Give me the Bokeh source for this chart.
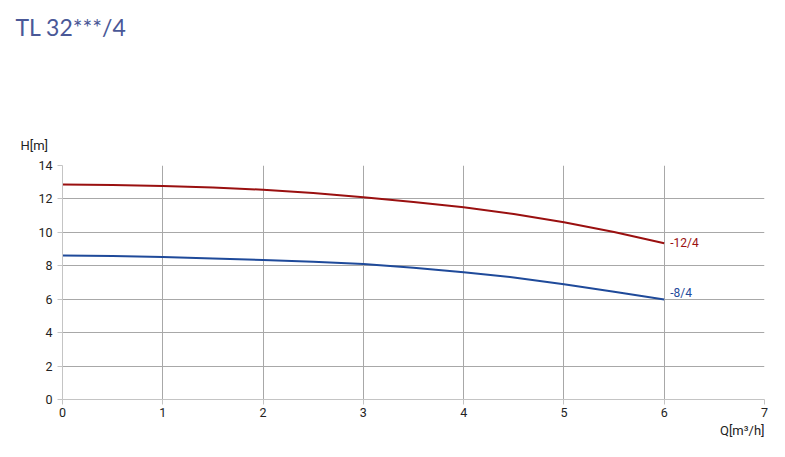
from bokeh.plotting import figure
from bokeh.models import Label, Range1d, FixedTicker, Title
from bokeh.embed import file_html
from bokeh.resources import INLINE

q = [0, 0.5, 1, 1.5, 2, 2.5, 3, 3.5, 4, 4.5, 5, 5.5, 6]
h_12_4 = [12.87, 12.83, 12.77, 12.68, 12.55, 12.35, 12.1, 11.82, 11.5, 11.1, 10.6, 10.02, 9.35]
h_8_4 = [8.62, 8.58, 8.52, 8.44, 8.35, 8.24, 8.1, 7.88, 7.62, 7.3, 6.9, 6.45, 5.98]
series_names = ["-12/4", "-8/4"]
x_ticks = [0, 1, 2, 3, 4, 5, 6, 7]
y_ticks = [0, 2, 4, 6, 8, 10, 12, 14]
title_text = "TL 32***/4"
x_label = "Q[m³/h]"
y_label = "H[m]"

RED = "#9a1010"
BLUE = "#1f4a9a"
GRID = "#a8a8a8"
AXIS = "#c4c4c4"
TXT = "#222222"
FONT = "Roboto"

p = figure(frame_width=702, frame_height=234, min_border_left=62, min_border_right=13,
           min_border_top=165, min_border_bottom=50,
           x_range=Range1d(0, 7), y_range=Range1d(0, 14),
           output_backend="svg", toolbar_location=None)
p.outline_line_color = None
p.background_fill_color = "white"

p.xaxis.ticker = FixedTicker(ticks=x_ticks)
p.yaxis.ticker = FixedTicker(ticks=y_ticks)
for ax in (p.xaxis, p.yaxis):
    ax.axis_line_color = AXIS
    ax.major_tick_line_color = AXIS
    ax.major_tick_out = 5
    ax.major_tick_in = 0
    ax.minor_tick_line_color = None
    ax.major_label_text_font = FONT
    ax.major_label_text_font_size = "12.5px"
    ax.major_label_text_color = TXT
p.xaxis.major_label_standoff = 3
p.yaxis.major_label_standoff = 5

p.xgrid.ticker = FixedTicker(ticks=x_ticks[1:])
p.ygrid.ticker = FixedTicker(ticks=y_ticks[1:])
p.grid.grid_line_color = GRID
p.grid.grid_line_width = 1

p.line(q, h_12_4, line_color=RED, line_width=2)
p.line(q, h_8_4, line_color=BLUE, line_width=2)

p.add_layout(Label(x=q[-1], y=h_12_4[-1], text=series_names[0], x_offset=6, y_offset=0,
                   text_baseline="middle", text_font=FONT, text_font_size="12px", text_color=RED))
p.add_layout(Label(x=q[-1], y=h_8_4[-1], text=series_names[1], x_offset=6, y_offset=7,
                   text_baseline="middle", text_font=FONT, text_font_size="12px", text_color=BLUE))

p.add_layout(Title(text=y_label, align="left", offset=-42, standoff=26,
                   text_font=FONT, text_font_size="13px", text_font_style="normal",
                   text_color=TXT), "above")
p.add_layout(Title(text=" ", align="left", offset=0, standoff=77,
                   text_font=FONT, text_font_size="1px", text_color="white"), "above")
p.add_layout(Title(text=title_text, align="left", offset=-47, standoff=0, vertical_align="top",
                   text_font="Lato", text_font_size="23px", text_font_style="normal",
                   text_color="#4a5897"), "above")
p.add_layout(Title(text=x_label, align="right", offset=0, standoff=3,
                   text_font=FONT, text_font_size="13px", text_font_style="normal",
                   text_color=TXT), "below")

open("out.html", "w").write(file_html(p, INLINE))
